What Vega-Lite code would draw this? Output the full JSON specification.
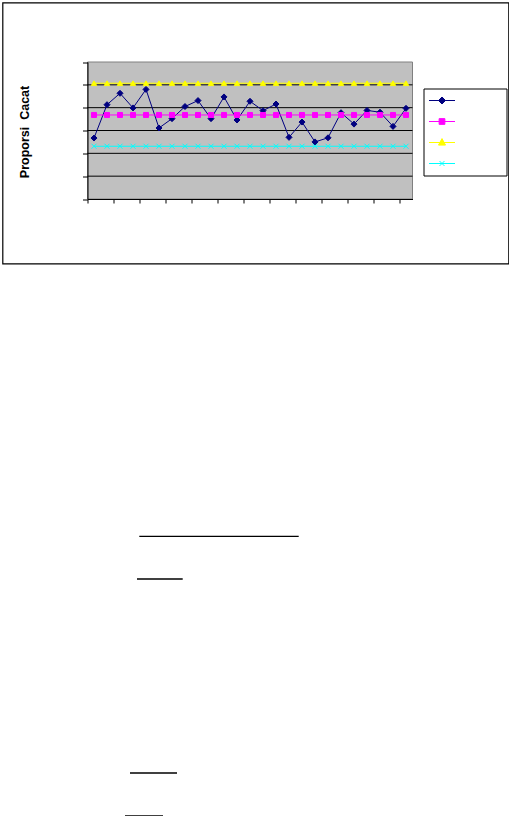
{
  "$schema": "https://vega.github.io/schema/vega-lite/v6.json",
  "description": "p-chart Proporsi Cacat with CL, UCL and LCL",
  "padding": {"left": 1.5, "top": 1.5, "right": 0, "bottom": 0},
  "spacing": 0,
  "vconcat": [
    {
      "width": 506,
      "height": 261,
      "view": {"stroke": "black", "strokeWidth": 1.2},
      "layer": [
        {
          "data": {"values": [{}]},
          "mark": {"type": "rect", "fill": "#C0C0C0", "stroke": "#808080", "strokeWidth": 1},
          "encoding": {
            "x": {"datum": 0.5, "type": "quantitative", "scale": {"domain": [0.5, 25.5], "range": [85, 410], "nice": false, "zero": false}, "title": null},
            "x2": {"datum": 25.5},
            "y": {"datum": 0, "type": "quantitative", "scale": {"domain": [0, 0.06], "range": [196.5, 59.5], "nice": false}, "title": "Proporsi\u00a0\u00a0Cacat"},
            "y2": {"datum": 0.06}
          }
        },
        {
          "data": {"values": [{"grid": 0.01}, {"grid": 0.02}, {"grid": 0.03}, {"grid": 0.04}, {"grid": 0.05}]},
          "mark": {"type": "rule", "color": "black", "strokeWidth": 1},
          "encoding": {
            "x": {"datum": 0.5, "type": "quantitative", "title": null},
            "x2": {"datum": 25.5},
            "y": {"field": "grid", "type": "quantitative", "title": "Proporsi\u00a0\u00a0Cacat"}
          }
        },
        {
          "data": {"values": [
            {"no": 1, "series": "p", "value": 0.0267}, {"no": 2, "series": "p", "value": 0.0413},
            {"no": 3, "series": "p", "value": 0.0463}, {"no": 4, "series": "p", "value": 0.0399},
            {"no": 5, "series": "p", "value": 0.0480}, {"no": 6, "series": "p", "value": 0.0311},
            {"no": 7, "series": "p", "value": 0.0352}, {"no": 8, "series": "p", "value": 0.0405},
            {"no": 9, "series": "p", "value": 0.0431}, {"no": 10, "series": "p", "value": 0.0352},
            {"no": 11, "series": "p", "value": 0.0447}, {"no": 12, "series": "p", "value": 0.0346},
            {"no": 13, "series": "p", "value": 0.0428}, {"no": 14, "series": "p", "value": 0.0387},
            {"no": 15, "series": "p", "value": 0.0416}, {"no": 16, "series": "p", "value": 0.0270},
            {"no": 17, "series": "p", "value": 0.0337}, {"no": 18, "series": "p", "value": 0.0250},
            {"no": 19, "series": "p", "value": 0.0268}, {"no": 20, "series": "p", "value": 0.0378},
            {"no": 21, "series": "p", "value": 0.0328}, {"no": 22, "series": "p", "value": 0.0388},
            {"no": 23, "series": "p", "value": 0.0380}, {"no": 24, "series": "p", "value": 0.0318},
            {"no": 25, "series": "p", "value": 0.0397},
            {"no": 1, "series": "CL", "value": 0.0368}, {"no": 2, "series": "CL", "value": 0.0368},
            {"no": 3, "series": "CL", "value": 0.0368}, {"no": 4, "series": "CL", "value": 0.0368},
            {"no": 5, "series": "CL", "value": 0.0368}, {"no": 6, "series": "CL", "value": 0.0368},
            {"no": 7, "series": "CL", "value": 0.0368}, {"no": 8, "series": "CL", "value": 0.0368},
            {"no": 9, "series": "CL", "value": 0.0368}, {"no": 10, "series": "CL", "value": 0.0368},
            {"no": 11, "series": "CL", "value": 0.0368}, {"no": 12, "series": "CL", "value": 0.0368},
            {"no": 13, "series": "CL", "value": 0.0368}, {"no": 14, "series": "CL", "value": 0.0368},
            {"no": 15, "series": "CL", "value": 0.0368}, {"no": 16, "series": "CL", "value": 0.0368},
            {"no": 17, "series": "CL", "value": 0.0368}, {"no": 18, "series": "CL", "value": 0.0368},
            {"no": 19, "series": "CL", "value": 0.0368}, {"no": 20, "series": "CL", "value": 0.0368},
            {"no": 21, "series": "CL", "value": 0.0368}, {"no": 22, "series": "CL", "value": 0.0368},
            {"no": 23, "series": "CL", "value": 0.0368}, {"no": 24, "series": "CL", "value": 0.0368},
            {"no": 25, "series": "CL", "value": 0.0368},
            {"no": 1, "series": "UCL", "value": 0.0507}, {"no": 2, "series": "UCL", "value": 0.0507},
            {"no": 3, "series": "UCL", "value": 0.0507}, {"no": 4, "series": "UCL", "value": 0.0507},
            {"no": 5, "series": "UCL", "value": 0.0507}, {"no": 6, "series": "UCL", "value": 0.0507},
            {"no": 7, "series": "UCL", "value": 0.0507}, {"no": 8, "series": "UCL", "value": 0.0507},
            {"no": 9, "series": "UCL", "value": 0.0507}, {"no": 10, "series": "UCL", "value": 0.0507},
            {"no": 11, "series": "UCL", "value": 0.0507}, {"no": 12, "series": "UCL", "value": 0.0507},
            {"no": 13, "series": "UCL", "value": 0.0507}, {"no": 14, "series": "UCL", "value": 0.0507},
            {"no": 15, "series": "UCL", "value": 0.0507}, {"no": 16, "series": "UCL", "value": 0.0507},
            {"no": 17, "series": "UCL", "value": 0.0507}, {"no": 18, "series": "UCL", "value": 0.0507},
            {"no": 19, "series": "UCL", "value": 0.0507}, {"no": 20, "series": "UCL", "value": 0.0507},
            {"no": 21, "series": "UCL", "value": 0.0507}, {"no": 22, "series": "UCL", "value": 0.0507},
            {"no": 23, "series": "UCL", "value": 0.0507}, {"no": 24, "series": "UCL", "value": 0.0507},
            {"no": 25, "series": "UCL", "value": 0.0507},
            {"no": 1, "series": "LCL", "value": 0.0231}, {"no": 2, "series": "LCL", "value": 0.0231},
            {"no": 3, "series": "LCL", "value": 0.0231}, {"no": 4, "series": "LCL", "value": 0.0231},
            {"no": 5, "series": "LCL", "value": 0.0231}, {"no": 6, "series": "LCL", "value": 0.0231},
            {"no": 7, "series": "LCL", "value": 0.0231}, {"no": 8, "series": "LCL", "value": 0.0231},
            {"no": 9, "series": "LCL", "value": 0.0231}, {"no": 10, "series": "LCL", "value": 0.0231},
            {"no": 11, "series": "LCL", "value": 0.0231}, {"no": 12, "series": "LCL", "value": 0.0231},
            {"no": 13, "series": "LCL", "value": 0.0231}, {"no": 14, "series": "LCL", "value": 0.0231},
            {"no": 15, "series": "LCL", "value": 0.0231}, {"no": 16, "series": "LCL", "value": 0.0231},
            {"no": 17, "series": "LCL", "value": 0.0231}, {"no": 18, "series": "LCL", "value": 0.0231},
            {"no": 19, "series": "LCL", "value": 0.0231}, {"no": 20, "series": "LCL", "value": 0.0231},
            {"no": 21, "series": "LCL", "value": 0.0231}, {"no": 22, "series": "LCL", "value": 0.0231},
            {"no": 23, "series": "LCL", "value": 0.0231}, {"no": 24, "series": "LCL", "value": 0.0231},
            {"no": 25, "series": "LCL", "value": 0.0231}
          ]},
          "encoding": {
            "x": {
              "field": "no", "type": "quantitative",
              "scale": {"domain": [0.5, 25.5], "range": [85, 410], "nice": false, "zero": false},
              "title": null,
              "axis": {
                "values": [0.5, 1.5, 2.5, 3.5, 4.5, 5.5, 6.5, 7.5, 8.5, 9.5, 10.5, 11.5, 12.5, 13.5, 14.5, 15.5, 16.5, 17.5, 18.5, 19.5, 20.5, 21.5, 22.5, 23.5, 24.5, 25.5],
                "labels": false, "grid": false, "offset": -64.5, "tickSize": 4,
                "domainColor": "black", "tickColor": "black", "zindex": 1
              }
            },
            "y": {
              "field": "value", "type": "quantitative",
              "scale": {"domain": [0, 0.06], "range": [196.5, 59.5], "nice": false},
              "title": "Proporsi\u00a0\u00a0Cacat",
              "axis": {
                "values": [0, 0.01, 0.02, 0.03, 0.04, 0.05, 0.06],
                "labels": false, "grid": false, "offset": -85, "tickSize": 5,
                "domainColor": "black", "tickColor": "black", "zindex": 1,
                "titleX": -63.5, "titleY": 129, "titleBaseline": "middle",
                "titleFont": "Liberation Sans", "titleFontSize": 12.5, "titleFontWeight": "bold", "titleColor": "black"
              }
            },
            "stroke": {
              "field": "series", "type": "nominal",
              "scale": {"domain": ["p", "CL", "UCL", "LCL"], "range": ["#000080", "#FF00FF", "#FFFF00", "#00FFFF"]},
              "legend": {
                "orient": "none", "legendX": 421, "legendY": 86,
                "title": null, "strokeColor": "black", "padding": 5,
                "symbolSize": 676, "symbolStrokeWidth": 1, "clipHeight": 14, "rowPadding": 7,
                "labelExpr": "''", "labelOffset": 46,
                "encode": {
                  "symbols": {
                    "update": {
                      "shape": {"signal": "datum.value === 'p' ? 'M-1,0L1,0M0,-0.27L0.27,0L0,0.27L-0.27,0Z' : datum.value === 'CL' ? 'M-1,0L1,0M-0.22,-0.22L0.22,-0.22L0.22,0.22L-0.22,0.22Z' : datum.value === 'UCL' ? 'M-1,0L1,0M0,-0.3L0.27,0.2L-0.27,0.2Z' : 'M-1,0L1,0M-0.19,-0.19L0.19,0.19M-0.19,0.19L0.19,-0.19'"},
                      "fill": {"scale": "stroke", "field": "value"},
                      "opacity": {"value": 1}
                    }
                  }
                }
              }
            }
          },
          "layer": [
            {"mark": {"type": "line", "strokeWidth": 1}},
            {
              "transform": [{"filter": "datum.series === 'p'"}],
              "mark": {"type": "point", "shape": "diamond", "filled": true, "fill": "#000080", "size": 36, "strokeWidth": 1, "opacity": 1}
            },
            {
              "transform": [{"filter": "datum.series === 'CL'"}],
              "mark": {"type": "point", "shape": "square", "filled": true, "fill": "#FF00FF", "size": 25, "strokeWidth": 1, "opacity": 1}
            },
            {
              "transform": [{"filter": "datum.series === 'UCL'"}],
              "mark": {"type": "point", "shape": "triangle-up", "filled": true, "fill": "#FFFF00", "size": 30, "strokeWidth": 1, "opacity": 1}
            },
            {
              "transform": [{"filter": "datum.series === 'LCL'"}],
              "mark": {"type": "point", "shape": "M-1,-1L1,1M-1,1L1,-1", "filled": false, "size": 25, "strokeWidth": 1, "opacity": 1}
            }
          ]
        }
      ]
    },
    {
      "width": 506,
      "height": 553,
      "view": {"stroke": null},
      "data": {"values": [
        {"start": 138.3, "end": 297.7, "level": 534.3},
        {"start": 136, "end": 181.7, "level": 577},
        {"start": 129, "end": 176, "level": 771},
        {"start": 124, "end": 162, "level": 814}
      ]},
      "mark": {"type": "rule", "color": "black", "strokeWidth": 1.3},
      "encoding": {
        "x": {"field": "start", "type": "quantitative", "scale": {"domain": [1.5, 507.5], "nice": false, "zero": false}, "axis": null},
        "x2": {"field": "end"},
        "y": {"field": "level", "type": "quantitative", "scale": {"domain": [262.5, 815.5], "nice": false, "zero": false, "reverse": true}, "axis": null}
      }
    }
  ],
  "config": {
    "font": "Liberation Sans",
    "view": {"stroke": null}
  }
}
